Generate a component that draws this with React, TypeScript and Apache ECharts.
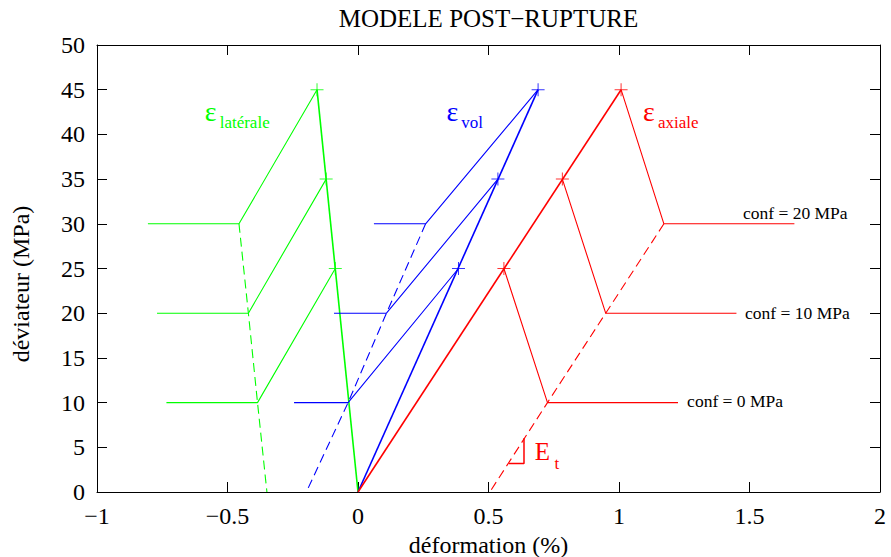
import React, { useEffect, useRef } from "react";
import * as echarts from "echarts";

// ---------- data (déformation %, déviateur MPa) ----------
const confLabels = ["conf = 0 MPa", "conf = 10 MPa", "conf = 20 MPa"];

// latérale (green)
const latPeaks = [[-0.087, 25], [-0.122, 35], [-0.157, 45]];
const latKnees = [[-0.385, 10], [-0.42, 20], [-0.456, 30]];
const latEnds = [[-0.734, 10], [-0.77, 20], [-0.805, 30]];
const latDashBottom = [-0.349, 0];

// volumique (blue)
const volPeaks = [[0.385, 25], [0.536, 35], [0.69, 45]];
const volKnees = [[-0.038, 10], [0.109, 20], [0.259, 30]];
const volEnds = [[-0.245, 10], [-0.092, 20], [0.061, 30]];
const volDashBottom = [-0.198, 0];

// axiale (red)
const axPeaks = [[0.559, 25], [0.783, 35], [1.008, 45]];
const axKnees = [[0.726, 10], [0.949, 20], [1.172, 30]];
const axEnds = [[1.226, 10], [1.45, 20], [1.672, 30]];
const axDashBottom = [0.505, 0];

const origin = [0, 0];

// Et slope marker
const etMarker = [[0.578, 3.2], [0.636, 3.2], [0.636, 6.0]];

// axis ticks
const xTicks = { min: -1, max: 2, interval: 0.5 };
const yTicks = { min: 0, max: 50, interval: 5 };

// annotation anchors (data coords: left x, middle y)
const epsLabels = [
  { sub: "latérale", color: "#00ff00", eps: [-0.587, 42.6], subPos: [-0.530, 41.3] },
  { sub: "vol", color: "#0000ff", eps: [0.339, 42.6], subPos: [0.396, 41.3] },
  { sub: "axiale", color: "#ff0000", eps: [1.092, 42.6], subPos: [1.149, 41.3] },
];
const confLabelPos = [[1.261, 10.13], [1.483, 20.01], [1.475, 31.25]];
const etLabel = { E: [0.677, 4.54], t: [0.753, 3.16] };

const FONT = "'Liberation Serif', 'Times New Roman', serif";
const GREEN = "#00ff00";
const BLUE = "#0000ff";
const RED = "#ff0000";
const PLUS = "path://M6,0h1v6h6v1h-6v6h-1v-6h-6v-1h6z";

function fmtTick(v: number) {
  const s = String(v);
  return v < 0 ? "\u2212" + s.slice(1) : s;
}

function lineSeries(data: number[][], color: string, width: number, dashed = false) {
  return {
    type: "line",
    data,
    xAxisIndex: 0,
    yAxisIndex: 0,
    showSymbol: false,
    symbol: "none",
    silent: true,
    lineStyle: { color, width, type: dashed ? [9, 5] : "solid" },
    z: 2,
  };
}

function buildSeries() {
  const s: any[] = [];
  const groups = [
    { peaks: latPeaks, knees: latKnees, ends: latEnds, bottom: latDashBottom, color: GREEN },
    { peaks: volPeaks, knees: volKnees, ends: volEnds, bottom: volDashBottom, color: BLUE },
    { peaks: axPeaks, knees: axKnees, ends: axEnds, bottom: axDashBottom, color: RED },
  ];
  groups.forEach((g) => {
    s.push(lineSeries([origin, g.peaks[g.peaks.length - 1]], g.color, 1.6));
    g.peaks.forEach((p, i) => {
      s.push(lineSeries([p, g.knees[i], g.ends[i]], g.color, 1.1));
    });
    const dash = [...g.knees].reverse().concat([g.bottom]);
    s.push(lineSeries(dash, g.color, 1.1, true));
    s.push({
      type: "scatter",
      data: g.peaks,
      xAxisIndex: 0,
      yAxisIndex: 0,
      symbol: PLUS,
      symbolSize: 13,
      itemStyle: { color: g.color },
      silent: true,
      z: 3,
    });
  });
  s.push(lineSeries(etMarker, RED, 1.5));
  return s;
}

function axisCommon(extra: any) {
  return {
    type: "value",
    axisLine: { show: true, onZero: false, lineStyle: { color: "#000", width: 1 } },
    axisTick: { show: true, inside: true, length: 10, lineStyle: { color: "#000", width: 1 } },
    splitLine: { show: false },
    ...extra,
  };
}

export default function App() {
  const ref = useRef<HTMLDivElement>(null);
  useEffect(() => {
    if (!ref.current) return;
    const chart = echarts.init(ref.current, null, { renderer: "svg" });
    const labelStyle = { fontFamily: FONT, fontSize: 24, color: "#000" };
    chart.setOption({
      animation: false,
      backgroundColor: "#fff",
      grid: { left: 97, right: 11, top: 45, bottom: 65, containLabel: false },
      xAxis: [
        axisCommon({
          ...xTicks,
          position: "bottom",
          axisLabel: { ...labelStyle, margin: 12, formatter: fmtTick },
        }),
        axisCommon({ ...xTicks, position: "top", axisLabel: { show: false } }),
      ],
      yAxis: [
        axisCommon({
          ...yTicks,
          position: "left",
          axisLabel: { ...labelStyle, margin: 12, formatter: fmtTick },
        }),
        axisCommon({ ...yTicks, position: "right", axisLabel: { show: false } }),
      ],
      series: buildSeries(),
    });

    const px = (p: number[]) => chart.convertToPixel({ xAxisIndex: 0, yAxisIndex: 0 }, p) as number[];
    const txt = (text: string, p: number[], color: string, size: number, align = "left") => {
      const [x, y] = px(p);
      return {
        type: "text",
        x,
        y,
        silent: true,
        style: { text, fill: color, font: `${size}px ${FONT}`, align, verticalAlign: "middle" },
        z: 10,
      };
    };
    const graphics: any[] = [];
    epsLabels.forEach((l) => {
      graphics.push(txt("ε", l.eps, l.color, 28));
      graphics.push(txt(l.sub, l.subPos, l.color, 17));
    });
    confLabels.forEach((t, i) => graphics.push(txt(t, confLabelPos[i], "#000", 17.5)));
    graphics.push(txt("E", etLabel.E, RED, 25));
    graphics.push(txt("t", etLabel.t, RED, 17));

    const [cx] = px([(xTicks.min + xTicks.max) / 2, 0]);
    graphics.push({
      type: "text", x: cx, y: 18, silent: true,
      style: { text: "MODELE POST\u2212RUPTURE", fill: "#000", font: `25px ${FONT}`, align: "center", verticalAlign: "middle" },
    });
    graphics.push({
      type: "text", x: cx, y: 545, silent: true,
      style: { text: "déformation (%)", fill: "#000", font: `24px ${FONT}`, align: "center", verticalAlign: "middle" },
    });
    graphics.push({
      type: "text", x: 21, y: 284, rotation: Math.PI / 2, silent: true,
      style: { text: "déviateur (MPa)", fill: "#000", font: `24px ${FONT}`, align: "center", verticalAlign: "middle" },
    });
    chart.setOption({ graphic: graphics });
    return () => chart.dispose();
  }, []);
  return (
    <div
      ref={ref}
      style={{ position: "fixed", left: 0, top: 0, width: 891, height: 557, background: "#fff" }}
    />
  );
}
